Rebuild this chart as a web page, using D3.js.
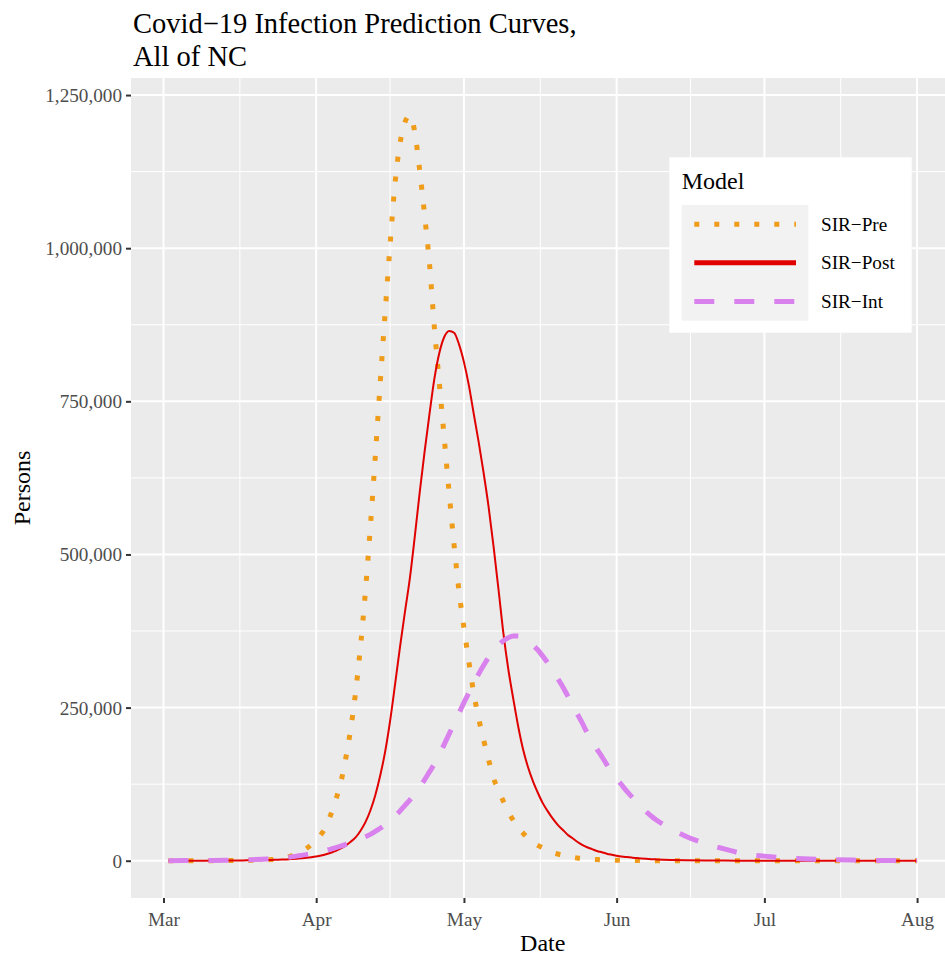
<!DOCTYPE html>
<html><head><meta charset="utf-8">
<script src="https://cdn.jsdelivr.net/npm/d3@7"></script>
<style>body{margin:0;background:#fff}</style>
</head><body><svg id="chart" width="945" height="958"></svg>
<script>
// ---------- data ----------
const dates = [
 "03-02","03-05","03-08","03-11","03-14","03-17","03-19",
 "03-21","03-22","03-23","03-24","03-25","03-26","03-27","03-28","03-29","03-30",
 "03-31","04-01","04-02","04-03","04-04","04-05","04-06","04-07","04-08","04-09",
 "04-10","04-11","04-12","04-13","04-14","04-15","04-16","04-17","04-18","04-19",
 "04-20","04-21","04-22","04-23","04-24","04-25","04-26","04-27","04-28","04-29",
 "04-30","05-01","05-02","05-03","05-04","05-05","05-06","05-07","05-08","05-09",
 "05-10","05-11","05-12","05-13","05-14","05-15","05-16","05-17","05-18","05-19",
 "05-20","05-21","05-22","05-23","05-24","05-25","05-26","05-27","05-28","05-29",
 "05-30","05-31","06-01","06-02","06-03","06-04","06-05","06-06","06-07","06-08",
 "06-09",
 "06-12","06-15","06-19","06-23","06-27","07-01","07-05","07-09","07-14","07-19","07-24","07-29","08-01"
];
const sirPre = [
 10,20,40,80,180,380,600,
 1100,1500,2000,2600,4000,5600,8000,11500,15000,20000,
 26000,34000,43000,56000,76000,100000,128000,167000,215000,275000,
 350000,440000,545000,660000,780000,895000,1005000,1105000,1170000,1205000,
 1217000,1190000,1128000,1055000,975000,870000,780000,690000,600000,515000,
 440000,380000,325000,273000,232000,197000,165000,135000,115000,97000,
 80000,66000,54000,45000,37000,30000,25000,21000,17000,13500,
 11000,9000,7200,5800,4600,3700,3000,2400,1900,1500,
 1200,950,750,600,480,380,300,240,190,150,
 120,
 60,30,15,8,4,2,1,1,0,0,0,0,0
];
const sirPost = [
 50,80,120,200,320,500,700,
 950,1100,1300,1550,1850,2200,2700,3300,4000,4800,
 5800,7000,8500,10500,13000,16000,20000,25000,31000,38000,
 49000,63000,82000,107000,139000,178000,228000,287000,348000,405000,
 460000,528000,600000,667000,729000,787000,829000,855000,865000,862000,
 843000,814000,776000,729000,683000,633000,578000,514000,444000,372000,
 313000,265000,220000,182000,153000,130000,111000,94000,81000,69000,
 59000,51000,43000,37000,31000,26000,22000,19000,16000,13800,
 11500,9800,8300,7000,6000,5100,4400,3700,3100,2600,
 2200,
 1300,800,400,220,120,70,40,20,10,5,3,2,1
];
const sirInt = [
 100,200,350,550,850,1300,1700,
 2300,2700,3200,3800,4500,5300,6300,7500,8700,10000,
 11500,13000,14800,16800,19000,21500,24000,26500,29000,32000,
 35500,39000,43000,48000,53000,59000,66000,73000,81000,90000,
 99000,109000,120000,132000,145000,158000,173000,190000,207000,224000,
 241000,258000,274000,290000,305000,319000,332000,343000,352000,359000,
 364000,367000,367000,364000,359000,352000,344000,334000,323000,311000,
 298000,285000,270000,255000,240000,225000,209000,194000,182000,170000,
 157000,145000,134000,124000,114000,105000,96000,88000,80000,73000,
 67000,
 52000,40000,28000,19000,11000,7500,4800,3200,2000,1000,500,300,200
];
const seriesNames = ["SIR\u2212Pre","SIR\u2212Post","SIR\u2212Int"];
const xTickDates = ["2020-03-01","2020-04-01","2020-05-01","2020-06-01","2020-07-01","2020-08-01"];
const xTickLabels = ["Mar","Apr","May","Jun","Jul","Aug"];
const yTicks = [0,250000,500000,750000,1000000,1250000];
const titleLines = ["Covid\u221219 Infection Prediction Curves,","All of NC"];

// ---------- styles ----------
const colors = {"SIR\u2212Pre":"#EE9C1A","SIR\u2212Post":"#E00000","SIR\u2212Int":"#D982EE"};
const widths = {"SIR\u2212Pre":5,"SIR\u2212Post":2,"SIR\u2212Int":5};
const dashes = {"SIR\u2212Pre":"5,15","SIR\u2212Post":null,"SIR\u2212Int":"20,20"};
const FONT = "'Liberation Serif','Times New Roman',Times,serif";

const svg = d3.select("#chart");
svg.append("rect").attr("width",945).attr("height",958).attr("fill","#fff");

const parse = d3.utcParse("%Y-%m-%d");
const dateObjs = dates.map(s => parse("2020-" + s));
const valuesBySeries = [sirPre, sirPost, sirInt];

const P = {left:131, right:954.5, top:78, bottom:898};

// scales with ggplot-style 5% expansion
const xe = d3.extent(dateObjs);
const xs = xe[1] - xe[0];
const x = d3.scaleUtc()
  .domain([new Date(+xe[0] - 0.05*xs), new Date(+xe[1] + 0.05*xs)])
  .range([P.left, P.right]);
const allVals = valuesBySeries.flat();
const ymin = d3.min(allVals), ymax = d3.max(allVals), yr = ymax - ymin;
const y = d3.scaleLinear().domain([ymin - 0.05*yr, ymax + 0.05*yr]).range([P.bottom, P.top]);

// panel
svg.append("defs").append("clipPath").attr("id","pclip")
  .append("rect").attr("x",P.left).attr("y",P.top).attr("width",P.right-P.left).attr("height",P.bottom-P.top);
const panel = svg.append("g").attr("clip-path","url(#pclip)");
panel.append("rect").attr("x",P.left).attr("y",P.top).attr("width",P.right-P.left).attr("height",P.bottom-P.top).attr("fill","#EBEBEB");

const xMajor = xTickDates.map(parse);
const xMinor = [];
const ext = [parse("2020-02-01"), ...xMajor, parse("2020-09-01")];
for (let i=0;i<ext.length-1;i++){ xMinor.push(new Date((+ext[i] + +ext[i+1])/2)); }
const yExt = [yTicks[0]-250000, ...yTicks, yTicks[yTicks.length-1]+250000];
const yMinor = [];
for (let i=0;i<yExt.length-1;i++){ yMinor.push((yExt[i]+yExt[i+1])/2); }
const [yd0, yd1] = y.domain();
const [xd0, xd1] = x.domain();

panel.selectAll(".ymin").data(yMinor.filter(v=>v>yd0&&v<yd1)).join("line")
  .attr("x1",P.left).attr("x2",P.right).attr("y1",d=>y(d)).attr("y2",d=>y(d))
  .attr("stroke","#fff").attr("stroke-width",1);
panel.selectAll(".xmin").data(xMinor.filter(v=>v>xd0&&v<xd1)).join("line")
  .attr("y1",P.top).attr("y2",P.bottom).attr("x1",d=>x(d)).attr("x2",d=>x(d))
  .attr("stroke","#fff").attr("stroke-width",1);
panel.selectAll(".ymaj").data(yTicks).join("line")
  .attr("x1",P.left).attr("x2",P.right).attr("y1",d=>y(d)).attr("y2",d=>y(d))
  .attr("stroke","#fff").attr("stroke-width",2);
panel.selectAll(".xmaj").data(xMajor).join("line")
  .attr("y1",P.top).attr("y2",P.bottom).attr("x1",d=>x(d)).attr("x2",d=>x(d))
  .attr("stroke","#fff").attr("stroke-width",2);

// lines
const line = d3.line().curve(d3.curveMonotoneX).x(d=>x(d.date)).y(d=>y(d.v));
seriesNames.forEach((name,i)=>{
  const data = dateObjs.map((dt,j)=>({date:dt, v:valuesBySeries[i][j]}));
  panel.append("path").datum(data).attr("d",line)
    .attr("fill","none").attr("stroke",colors[name]).attr("stroke-width",widths[name])
    .attr("stroke-dasharray",dashes[name]).attr("stroke-linecap","butt").attr("stroke-linejoin","round");
});

// axes
const yAxis = d3.axisLeft(y).tickValues(yTicks).tickFormat(d3.format(",")).tickSize(5).tickPadding(4);
const gy = svg.append("g").attr("transform",`translate(${P.left},0)`).call(yAxis);
gy.select(".domain").remove();
gy.selectAll(".tick line").attr("stroke","#333").attr("stroke-width",2);
gy.selectAll(".tick text").attr("font-family",FONT).attr("font-size",19.2).attr("fill","#4D4D4D")
  .attr("dy","0.34em");

const xAxis = d3.axisBottom(x).tickValues(xMajor).tickFormat((d,i)=>xTickLabels[i]).tickSize(5).tickPadding(9);
const gx = svg.append("g").attr("transform",`translate(0,${P.bottom})`).call(xAxis);
gx.select(".domain").remove();
gx.selectAll(".tick line").attr("stroke","#333").attr("stroke-width",2);
gx.selectAll(".tick text").attr("font-family",FONT).attr("font-size",19.2).attr("fill","#4D4D4D");

// axis titles
svg.append("text").attr("x",(P.left+P.right)/2).attr("y",951).attr("text-anchor","middle")
  .attr("font-family",FONT).attr("font-size",24).attr("fill","#000").text("Date");
svg.append("text").attr("transform",`translate(30,${(P.top+P.bottom)/2}) rotate(-90)`)
  .attr("text-anchor","middle").attr("font-family",FONT).attr("font-size",24).attr("fill","#000").text("Persons");

// title
titleLines.forEach((t,i)=>{
  svg.append("text").attr("x",133).attr("y",33.3 + i*32.4)
    .attr("font-family",FONT).attr("font-size",28.5).attr("fill","#000").text(t);
});

// legend
const L = svg.append("g");
L.append("rect").attr("x",669.3).attr("y",157.3).attr("width",242.4).attr("height",175.4).attr("fill","#fff");
L.append("text").attr("x",681.7).attr("y",189.3).attr("font-family",FONT).attr("font-size",24).attr("fill","#000").text("Model");
L.append("rect").attr("x",681.7).attr("y",205).attr("width",126.6).attr("height",115.7).attr("fill","#F2F2F2");
const legendWidths = {"SIR\u2212Pre":5,"SIR\u2212Post":5,"SIR\u2212Int":5};
seriesNames.forEach((name,i)=>{
  const cy = 205 + 38.57*(i+0.5);
  L.append("line").attr("x1",694.3).attr("x2",796).attr("y1",cy).attr("y2",cy)
    .attr("stroke",colors[name]).attr("stroke-width",legendWidths[name])
    .attr("stroke-dasharray",dashes[name]).attr("stroke-linecap","butt");
  L.append("text").attr("x",821).attr("y",cy+6.6).attr("font-family",FONT).attr("font-size",19.2)
    .attr("fill","#000").text(name);
});
</script>
</body></html>
